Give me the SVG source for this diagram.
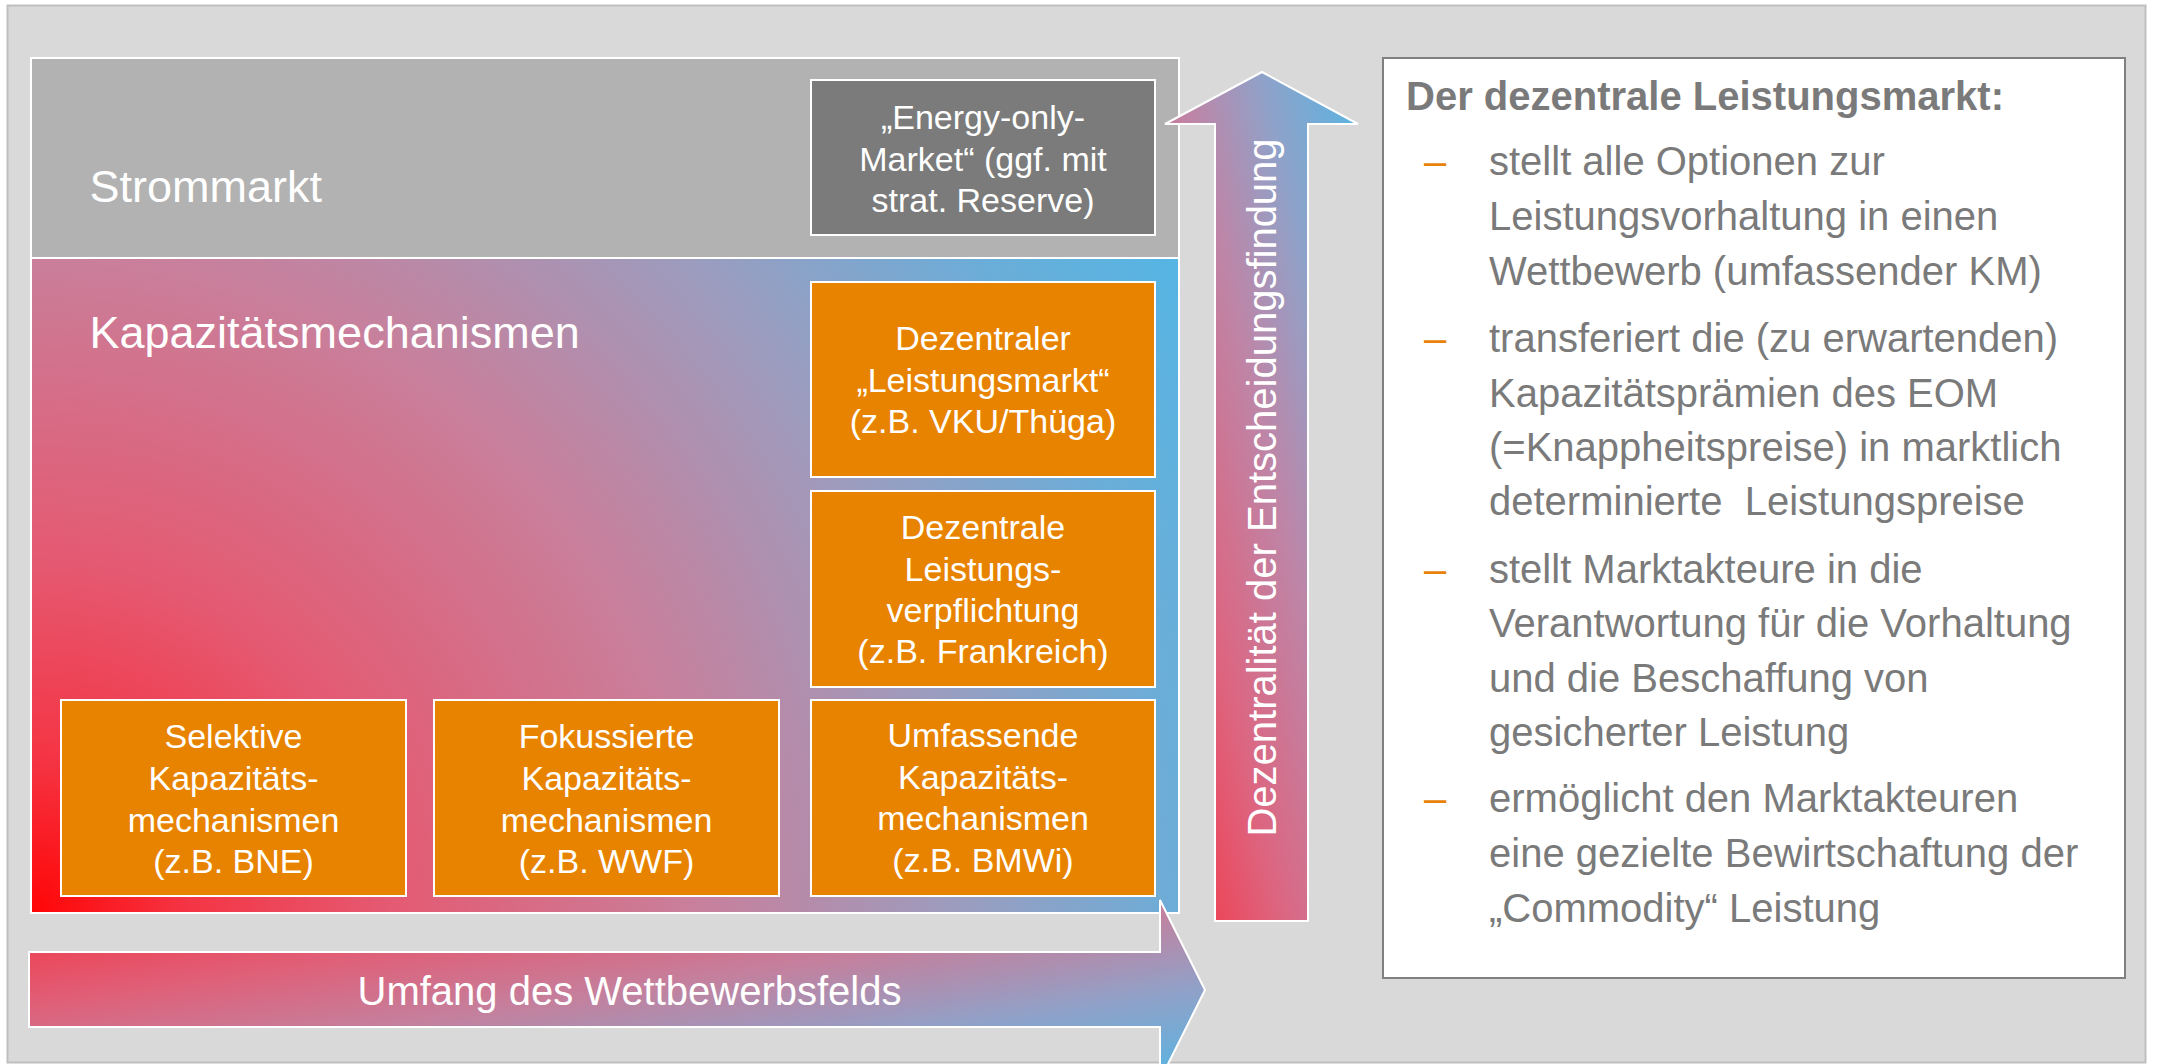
<svg xmlns="http://www.w3.org/2000/svg" width="2161" height="1064" viewBox="0 0 2161 1064">
<style>
.w{fill:#ffffff;font-family:"Liberation Sans",Arial,sans-serif}
.bt{font-size:34px;text-anchor:middle}
.org{fill:#e88300;stroke:#ffffff;stroke-width:2}
.gr{fill:#7a7a7a;font-family:"Liberation Sans",Arial,sans-serif;font-size:40px}
.dash{fill:#e8820a;font-family:"Liberation Sans",Arial,sans-serif;font-size:40px}
</style>
<defs>
<radialGradient id="gKap" gradientUnits="userSpaceOnUse" cx="31" cy="913" r="1320" fx="31" fy="913">
<stop offset="0" stop-color="#ff0505"/>
<stop offset="0.12" stop-color="#f43545"/>
<stop offset="0.27" stop-color="#e45a72"/>
<stop offset="0.5" stop-color="#c97f9b"/>
<stop offset="0.7" stop-color="#9c9cbe"/>
<stop offset="0.87" stop-color="#6badd8"/>
<stop offset="1" stop-color="#55b5e3"/>
</radialGradient>
<linearGradient id="gV" x1="0" y1="1" x2="1" y2="0">
<stop offset="0" stop-color="#f7303d"/>
<stop offset="0.3" stop-color="#dd6580"/>
<stop offset="0.55" stop-color="#bd86a8"/>
<stop offset="0.75" stop-color="#8fa2c9"/>
<stop offset="1" stop-color="#55b5e3"/>
</linearGradient>
<linearGradient id="gH" x1="0" y1="0" x2="1" y2="1">
<stop offset="0" stop-color="#f7303d"/>
<stop offset="0.3" stop-color="#df6079"/>
<stop offset="0.5" stop-color="#c57f9c"/>
<stop offset="0.75" stop-color="#8fa2c9"/>
<stop offset="1" stop-color="#55b5e3"/>
</linearGradient>
</defs>

<rect id="background" x="7.5" y="5.5" width="2138" height="1057" fill="#d9d9d9" stroke="#bfbfbf" stroke-width="2"/>

<g id="strommarkt">
<rect x="31" y="58" width="1148" height="200" fill="#b1b2b1" stroke="#ffffff" stroke-width="2"/>
<text class="w" x="89.5" y="202" font-size="45">Strommarkt</text>
</g>

<g id="kapazitaetsmechanismen">
<rect x="31" y="258" width="1148" height="655" fill="url(#gKap)" stroke="#ffffff" stroke-width="2"/>
<text class="w" x="89.5" y="348" font-size="45">Kapazitätsmechanismen</text>
</g>

<g id="energy-only">
<rect x="811" y="80" width="344" height="155" fill="#7a7b7a" stroke="#ffffff" stroke-width="2"/>
<text class="w bt"><tspan x="983" y="129">„Energy-only-</tspan><tspan x="983" y="171">Market“ (ggf. mit</tspan><tspan x="983" y="212">strat. Reserve)</tspan></text>
</g>

<g id="dezentraler-leistungsmarkt">
<rect class="org" x="811" y="282" width="344" height="195"/>
<text class="w bt"><tspan x="983" y="350">Dezentraler</tspan><tspan x="983" y="392">„Leistungsmarkt“</tspan><tspan x="983" y="433">(z.B. VKU/Thüga)</tspan></text>
</g>

<g id="dezentrale-leistungsverpflichtung">
<rect class="org" x="811" y="491" width="344" height="196"/>
<text class="w bt"><tspan x="983" y="539">Dezentrale</tspan><tspan x="983" y="581">Leistungs-</tspan><tspan x="983" y="622">verpflichtung</tspan><tspan x="983" y="663">(z.B. Frankreich)</tspan></text>
</g>

<g id="umfassende">
<rect class="org" x="811" y="700" width="344" height="196"/>
<text class="w bt"><tspan x="983" y="747">Umfassende</tspan><tspan x="983" y="789">Kapazitäts-</tspan><tspan x="983" y="830">mechanismen</tspan><tspan x="983" y="872">(z.B. BMWi)</tspan></text>
</g>

<g id="selektive">
<rect class="org" x="61" y="700" width="345" height="196"/>
<text class="w bt"><tspan x="233.5" y="748">Selektive</tspan><tspan x="233.5" y="790">Kapazitäts-</tspan><tspan x="233.5" y="832">mechanismen</tspan><tspan x="233.5" y="873">(z.B. BNE)</tspan></text>
</g>

<g id="fokussierte">
<rect class="org" x="434" y="700" width="345" height="196"/>
<text class="w bt"><tspan x="606.5" y="748">Fokussierte</tspan><tspan x="606.5" y="790">Kapazitäts-</tspan><tspan x="606.5" y="832">mechanismen</tspan><tspan x="606.5" y="873">(z.B. WWF)</tspan></text>
</g>

<g id="connectors">
<g id="arrow-vertical">
<path d="M1215,921 L1215,124 L1165,124 L1262,72 L1358,124 L1308,124 L1308,921 Z" fill="url(#gV)" stroke="#ffffff" stroke-width="2"/>
<text class="w" transform="translate(1276,487.5) rotate(-90)" text-anchor="middle" font-size="40">Dezentralität der Entscheidungsfindung</text>
</g>
<g id="arrow-horizontal">
<path d="M29,952 L1160,952 L1160,900 L1205,990 L1160,1080 L1160,1027 L29,1027 Z" fill="url(#gH)" stroke="#ffffff" stroke-width="2"/>
<text class="w" x="629.5" y="1005" text-anchor="middle" font-size="40">Umfang des Wettbewerbsfelds</text>
</g>
</g>

<g id="info-box">
<rect x="1383" y="58" width="742" height="920" fill="#ffffff" stroke="#808080" stroke-width="2"/>
<text x="1406" y="110" fill="#7a7a7a" font-family="Liberation Sans, Arial, sans-serif" font-size="40" font-weight="bold">Der dezentrale Leistungsmarkt:</text>
<text class="dash" x="1424" y="175">–</text>
<text class="gr"><tspan x="1489" y="175">stellt alle Optionen zur</tspan><tspan x="1489" y="230">Leistungsvorhaltung in einen</tspan><tspan x="1489" y="285">Wettbewerb (umfassender KM)</tspan></text>
<text class="dash" x="1424" y="352">–</text>
<text class="gr"><tspan x="1489" y="352">transferiert die (zu erwartenden)</tspan><tspan x="1489" y="407">Kapazitätsprämien des EOM</tspan><tspan x="1489" y="461">(=Knappheitspreise) in marktlich</tspan><tspan x="1489" y="515" xml:space="preserve">determinierte  Leistungspreise</tspan></text>
<text class="dash" x="1424" y="583">–</text>
<text class="gr"><tspan x="1489" y="583">stellt Marktakteure in die</tspan><tspan x="1489" y="637">Verantwortung für die Vorhaltung</tspan><tspan x="1489" y="692">und die Beschaffung von</tspan><tspan x="1489" y="746">gesicherter Leistung</tspan></text>
<text class="dash" x="1424" y="812">–</text>
<text class="gr"><tspan x="1489" y="812">ermöglicht den Marktakteuren</tspan><tspan x="1489" y="867">eine gezielte Bewirtschaftung der</tspan><tspan x="1489" y="922">„Commodity“ Leistung</tspan></text>
</g>
</svg>
